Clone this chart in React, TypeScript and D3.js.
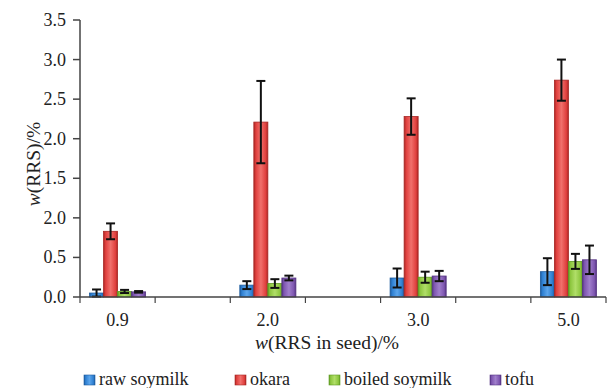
import React from "react";
import * as d3 from "d3";

const categories = ["0.9", "2.0", "3.0", "5.0"];
const seriesNames = ["raw soymilk", "okara", "boiled soymilk", "tofu"];
const rawSoymilk = [0.05, 0.15, 0.24, 0.32];
const rawSoymilkErr = [0.045, 0.05, 0.12, 0.17];
const okara = [0.83, 2.21, 2.28, 2.74];
const okaraErr = [0.1, 0.52, 0.23, 0.26];
const boiledSoymilk = [0.07, 0.17, 0.25, 0.45];
const boiledSoymilkErr = [0.02, 0.055, 0.07, 0.095];
const tofu = [0.065, 0.24, 0.265, 0.47];
const tofuErr = [0.01, 0.03, 0.065, 0.18];
const yTicks = [0, 0.5, 1.0, 1.5, 2.0, 2.5, 3.0, 3.5];
const yTickLabels = ["0.0", "0.5", "2.0", "1.5", "2.0", "2.5", "3.0", "3.5"];

const colors = ["#2F80D2", "#E0403E", "#8DC63F", "#7E56B0"];
const darks = ["#1D5B9E", "#A82624", "#5F9A22", "#553483"];
const lights = ["#5BA5EC", "#F0706C", "#B0DE68", "#A07FCC"];

const values = [rawSoymilk, okara, boiledSoymilk, tofu];
const errors = [rawSoymilkErr, okaraErr, boiledSoymilkErr, tofuErr];

const W = 610;
const H = 388;
const left = 80;
const right = 606;
const top = 20;
const bottom = 297;
const font = "'Times New Roman', Times, 'Liberation Serif', 'DejaVu Serif', 'Noto Serif', Georgia, serif";
const ts: React.CSSProperties = { fontFamily: font };

export default function App() {
  const slots = d3.range(categories.length * 2 - 1);
  const x = d3.scaleBand<number>().domain(slots).range([left, right]).paddingInner(0).paddingOuter(0);
  const y = d3.scaleLinear().domain([0, 3.5]).range([bottom, top]);
  const inner = d3
    .scaleBand<number>()
    .domain(d3.range(seriesNames.length))
    .range([0, x.bandwidth()])
    .paddingInner(0)
    .paddingOuter(0.68);
  const bw = inner.bandwidth();
  const tickXs = [...slots.map((s) => x(s) as number), right];
  const legendX = [84, 235, 329, 490];

  return (
    <svg width={W} height={H} style={{ position: "absolute", left: 0, top: 0, background: "#fff", fontFamily: font }}>
      <defs>
        {colors.map((c, i) => (
          <linearGradient key={i} id={`g${i}`} x1="0" x2="1" y1="0" y2="0">
            <stop offset="0" stopColor={darks[i]} />
            <stop offset="0.15" stopColor={c} />
            <stop offset="0.5" stopColor={lights[i]} />
            <stop offset="0.85" stopColor={c} />
            <stop offset="1" stopColor={darks[i]} />
          </linearGradient>
        ))}
      </defs>
      {categories.map((cat, ci) => {
        const gx = x(ci * 2) as number;
        return (
          <g key={cat}>
            {seriesNames.map((s, si) => {
              const v = values[si][ci];
              const e = errors[si][ci];
              const bx = gx + (inner(si) as number);
              const cx = bx + bw / 2;
              const lo = y(Math.max(0, v - e));
              const hi = y(v + e);
              return (
                <g key={s}>
                  <rect
                    x={bx}
                    y={y(v)}
                    width={bw}
                    height={y(0) - y(v)}
                    fill={`url(#g${si})`}
                    stroke={darks[si]}
                    strokeWidth={0.8}
                  />
                  <line x1={cx} x2={cx} y1={hi} y2={lo} stroke="#111" strokeWidth={2} />
                  <line x1={cx - 4.5} x2={cx + 4.5} y1={hi} y2={hi} stroke="#111" strokeWidth={2} />
                  <line x1={cx - 4.5} x2={cx + 4.5} y1={lo} y2={lo} stroke="#111" strokeWidth={2} />
                </g>
              );
            })}
          </g>
        );
      })}
      <line x1={left} x2={left} y1={top} y2={bottom} stroke="#444" strokeWidth={1.5} />
      {yTicks.map((t, i) => (
        <g key={i}>
          <line x1={left - 7} x2={left} y1={y(t)} y2={y(t)} stroke="#444" strokeWidth={1.5} />
          <text x={left - 14} y={y(t) + 6} textAnchor="end" fontSize={18} fill="#222" style={ts}>
            {yTickLabels[i]}
          </text>
        </g>
      ))}
      <line x1={left} x2={right} y1={bottom} y2={bottom} stroke="#444" strokeWidth={1.5} />
      {tickXs.map((tx, i) => (
        <line key={i} x1={tx} x2={tx} y1={bottom} y2={bottom + 6} stroke="#444" strokeWidth={1.2} />
      ))}
      {categories.map((cat, ci) => (
        <text
          key={cat}
          x={(x(ci * 2) as number) + x.bandwidth() / 2}
          y={326}
          textAnchor="middle"
          fontSize={18}
          fill="#222"
          style={ts}
        >
          {cat}
        </text>
      ))}
      <text x={327} y={349} textAnchor="middle" fontSize={19.5} fill="#222" style={ts}>
        <tspan fontStyle="italic">w</tspan>(RRS in seed)/%
      </text>
      <text transform="translate(40,164) rotate(-90)" textAnchor="middle" fontSize={19.5} fill="#222" style={ts}>
        <tspan fontStyle="italic">w</tspan>(RRS)/%
      </text>
      {seriesNames.map((s, i) => (
        <g key={s}>
          <rect x={legendX[i]} y={375} width={11} height={10} fill={`url(#g${i})`} stroke={darks[i]} strokeWidth={0.6} />
          <text x={legendX[i] + 15} y={385} fontSize={18} fill="#222" style={ts}>
            {s}
          </text>
        </g>
      ))}
    </svg>
  );
}
